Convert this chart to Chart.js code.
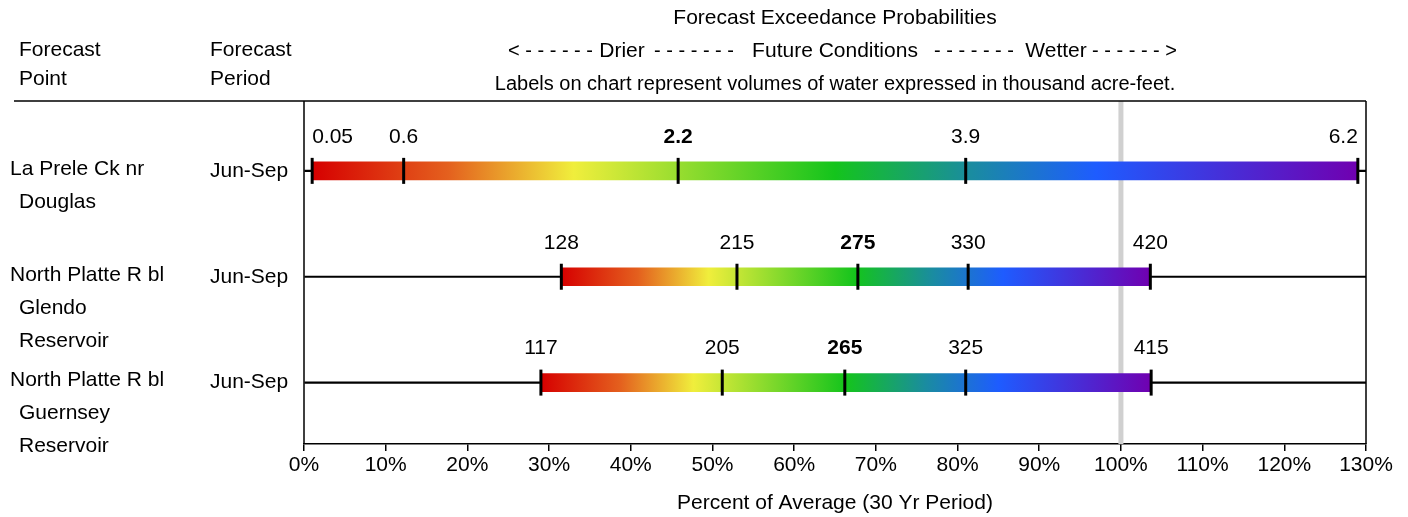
<!DOCTYPE html>
<html>
<head>
<meta charset="utf-8">
<script src="https://cdn.jsdelivr.net/npm/chart.js@4"></script>
<style>
  html, body { margin: 0; padding: 0; background: #fff; }
</style>
</head>
<body>
<canvas id="myChart" width="1408" height="517"></canvas>
<script>
// forecast points and periods
const points = [
  ['La Prele Ck nr', 'Douglas'],
  ['North Platte R bl', 'Glendo', 'Reservoir'],
  ['North Platte R bl', 'Guernsey', 'Reservoir']
]
const periods = ['Jun-Sep', 'Jun-Sep', 'Jun-Sep']

// percent of average at each exceedance level (90, 70, 50, 30, 10 %)
const pct90 = [1.0, 31.5, 29.0]
const pct70 = [12.2, 53.0, 51.2]
const pct50 = [45.8, 67.8, 66.2]
const pct30 = [81.0, 81.3, 81.0]
const pct10 = [129.0, 103.6, 103.7]

// volumes in thousand acre-feet
const vol90 = ['0.05', '128', '117']
const vol70 = ['0.6', '215', '205']
const vol50 = ['2.2', '275', '265']
const vol30 = ['3.9', '330', '325']
const vol10 = ['6.2', '420', '415']

const xMin = 0
const xMax = 130
const xStep = 10
const averageLine = 100

const FONT = '"Liberation Sans", Arial, sans-serif'
const FS = 21
const levels = [pct90, pct70, pct50, pct30, pct10]
const volLevels = [vol90, vol70, vol50, vol30, vol10]

const rangeData = points.map((p, i) => ({ x: [pct90[i], pct10[i]], y: i }))
const whiskerData = points.map((p, i) => ({ x: [xMin, xMax], y: i }))
const markerData = []
levels.forEach((lv, j) => {
  lv.forEach((v, i) => markerData.push({ x: v, y: i, label: volLevels[j][i], bold: j === 2 }))
})

function barGradient(ctx) {
  const chart = ctx.chart
  if (!chart.chartArea || !ctx.raw) return '#888'
  const xs = chart.scales.x
  const x0 = xs.getPixelForValue(ctx.raw.x[0])
  const x1 = xs.getPixelForValue(ctx.raw.x[1])
  const g = chart.ctx.createLinearGradient(x0, 0, x1, 0)
  g.addColorStop(0, '#d60000')
  g.addColorStop(0.13, '#e4601e')
  g.addColorStop(0.25, '#f0ee3c')
  g.addColorStop(0.5, '#14c41c')
  g.addColorStop(0.63, '#1a8ca0')
  g.addColorStop(0.75, '#1e5cff')
  g.addColorStop(1, '#7000b0')
  return g
}

const decor = {
  id: 'decor',
  beforeDatasetsDraw(chart) {
    const { ctx, chartArea: a, scales } = chart
    ctx.save()
    // 100% reference line
    const x100 = scales.x.getPixelForValue(averageLine)
    ctx.strokeStyle = '#d0d0d0'
    ctx.lineWidth = 5
    ctx.beginPath()
    ctx.moveTo(x100, a.top)
    ctx.lineTo(x100, a.bottom)
    ctx.stroke()
    // frame
    ctx.strokeStyle = '#000'
    ctx.lineWidth = 1.5
    ctx.beginPath()
    ctx.moveTo(14, a.top)
    ctx.lineTo(a.right, a.top)
    ctx.moveTo(a.left, a.top)
    ctx.lineTo(a.left, a.bottom)
    ctx.moveTo(a.right, a.top)
    ctx.lineTo(a.right, a.bottom)
    ctx.stroke()
    ctx.restore()
  },
  afterDraw(chart) {
    const { ctx, chartArea: a, scales } = chart
    const cx = (a.left + a.right) / 2
    ctx.save()
    ctx.fillStyle = '#000'
    ctx.textBaseline = 'middle'
    ctx.font = FS + 'px ' + FONT
    ctx.textAlign = 'center'
    ctx.fillText('Forecast Exceedance Probabilities', cx, 18)
    // direction line
    const dy = 51
    const dashFont = '20px ' + FONT
    const wordFont = FS + 'px ' + FONT
    ctx.font = dashFont
    ctx.textAlign = 'left'
    ctx.fillText('< - - - - - -', cx - 327, dy)
    ctx.textAlign = 'center'
    ctx.fillText('- - - - - - -', cx - 141, dy)
    ctx.fillText('- - - - - - -', cx + 139, dy)
    ctx.textAlign = 'right'
    ctx.fillText('- - - - - - >', cx + 342, dy)
    ctx.font = wordFont
    ctx.textAlign = 'center'
    ctx.fillText('Drier', cx - 213, dy)
    ctx.fillText('Future Conditions', cx, dy)
    ctx.fillText('Wetter', cx + 221, dy)
    ctx.font = '20px ' + FONT
    ctx.fillText('Labels on chart represent volumes of water expressed in thousand acre-feet.', cx, 84)
    ctx.font = FS + 'px ' + FONT
    ctx.textAlign = 'left'
    ctx.fillText('Forecast', 19, 50)
    ctx.fillText('Point', 19, 79)
    ctx.fillText('Forecast', 210, 50)
    ctx.fillText('Period', 210, 79)
    // row labels
    points.forEach((lines, i) => {
      const y = scales.y.getPixelForValue(i)
      lines.forEach((t, k) => ctx.fillText(t, k === 0 ? 10 : 19, y - 2 + k * 33))
      ctx.fillText(periods[i], 210, y)
    })
    // volume labels over markers
    markerData.forEach(m => {
      const x = scales.x.getPixelForValue(m.x)
      const y = scales.y.getPixelForValue(m.y) - 34
      ctx.font = (m.bold ? 'bold ' : '') + FS + 'px ' + FONT
      const w = ctx.measureText(m.label).width
      if (x - w / 2 < a.left) ctx.textAlign = 'left'
      else if (x + w / 2 > a.right) ctx.textAlign = 'right'
      else ctx.textAlign = 'center'
      ctx.fillText(m.label, x, y)
    })
    ctx.restore()
  }
}

new Chart(document.getElementById('myChart'), {
  type: 'bar',
  data: {
    datasets: [
      {
        type: 'scatter',
        data: markerData,
        pointStyle: 'line',
        rotation: 90,
        radius: 13,
        borderWidth: 3,
        borderColor: '#000',
        order: 0
      },
      {
        data: rangeData,
        backgroundColor: barGradient,
        barThickness: 18,
        grouped: false,
        order: 1
      },
      {
        data: whiskerData,
        backgroundColor: '#000',
        barThickness: 1.5,
        grouped: false,
        order: 2
      }
    ]
  },
  options: {
    responsive: false,
    animation: false,
    indexAxis: 'y',
    layout: { padding: { top: 101, left: 304, right: 42, bottom: 1.6 } },
    plugins: { legend: { display: false }, tooltip: { enabled: false } },
    scales: {
      x: {
        type: 'linear',
        min: xMin,
        max: xMax,
        ticks: {
          stepSize: xStep,
          color: '#000',
          padding: 2,
          font: { size: FS, family: FONT },
          callback: v => v + '%'
        },
        grid: { drawOnChartArea: false, drawTicks: true, tickLength: 7, color: '#000', lineWidth: 1.5 },
        border: { color: '#000', width: 1.5 },
        title: {
          display: true,
          text: 'Percent of Average (30 Yr Period)',
          color: '#000',
          font: { size: FS, family: FONT },
          padding: { top: 10, bottom: 0 }
        }
      },
      y: {
        type: 'linear',
        display: false,
        offset: false,
        reverse: true,
        min: -0.66,
        max: 2.58
      }
    }
  },
  plugins: [decor]
})
</script>
</body>
</html>
